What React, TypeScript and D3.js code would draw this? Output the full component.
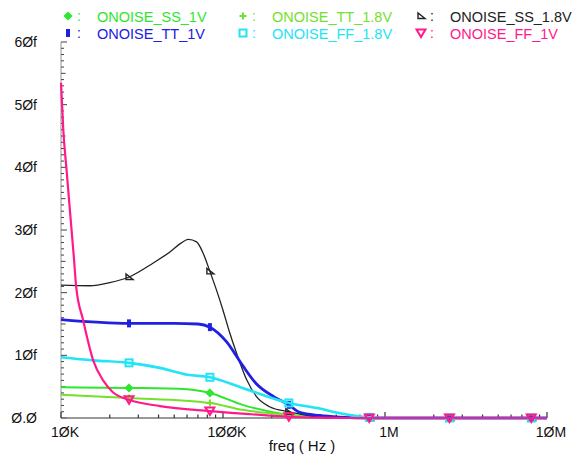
import React, { useEffect, useRef } from "react";
import * as d3 from "d3";

// frequencies in Hz, noise in fF
const markerFreqs = [26.3e3, 83e3, 255e3, 800e3, 2.5e6, 8e6];

const ssLowFreq = [10e3, 26.3e3, 60e3, 83e3, 132e3, 255e3, 400e3, 600e3, 10e6];
const ssLowVals = [4.9, 4.8, 4.6, 4.0, 2.1, 0.5, 0.1, 0, 0];
const ssLowMarks = [4.8, 4.0, 0.5, 0, 0, 0];

const ttHighFreq = [10e3, 26.3e3, 83e3, 132e3, 255e3, 400e3, 600e3, 10e6];
const ttHighVals = [3.7, 3.2, 2.4, 1.3, 0.5, 0.1, 0, 0];
const ttHighMarks = [3.2, 2.4, 0.5, 0, 0, 0];

const ssHighFreq = [
  10e3, 15e3, 20e3, 26.3e3, 36.9e3, 47e3, 55e3, 61e3, 68.7e3, 75.4e3, 83e3, 91.2e3,
  100e3, 110e3, 121e3, 140e3, 161e3, 194e3, 253e3, 350e3, 450e3, 10e6,
];
const ssHighVals = [
  21.2, 21.1, 21.6, 22.5, 24.7, 26.5, 27.9, 28.5, 28.1, 26.3, 23.4, 20.4,
  17.2, 13.6, 10.4, 6.1, 3.4, 1.8, 1.0, 0.3, 0, 0,
];
const ssHighMarks = [22.5, 23.4, 1.0, 0, 0, 0];

const ttLowFreq = [10e3, 26.3e3, 50e3, 70e3, 83e3, 105e3, 132e3, 160e3, 209e3, 255e3, 297e3, 395e3, 525e3, 800e3, 10e6];
const ttLowVals = [15.7, 15.1, 15.1, 15.0, 14.5, 12.2, 8.4, 5.5, 3.3, 2.1, 0.9, 0.4, 0.15, 0, 0];
const ttLowMarks = [15.1, 14.5, 2.1, 0, 0, 0];

const ffHighFreq = [10e3, 15.8e3, 26.3e3, 40.8e3, 60e3, 83e3, 132e3, 255e3, 395e3, 475e3, 800e3, 1e6, 10e6];
const ffHighVals = [9.7, 9.2, 8.8, 8.0, 6.9, 6.5, 4.8, 2.4, 1.5, 1.0, 0.1, 0, 0];
const ffHighMarks = [8.8, 6.5, 2.4, 0.1, 0, 0];

const ffLowFreq = [
  10e3, 10.33e3, 10.83e3, 11.36e3, 12e3, 12.4e3, 13.7e3, 15.8e3, 18.2e3, 20.9e3,
  26.3e3, 40.8e3, 83e3, 150e3, 255e3, 400e3, 600e3, 10e6,
];
const ffLowVals = [53.5, 46, 39.5, 33, 25.7, 21, 15.6, 9.2, 6, 4.1, 2.9, 1.9, 1.1, 0.6, 0.2, 0.05, 0, 0];
const ffLowMarks = [2.9, 1.1, 0.2, 0, 0, 0];

const seriesNames = [
  "ONOISE_SS_1V",
  "ONOISE_TT_1.8V",
  "ONOISE_SS_1.8V",
  "ONOISE_TT_1V",
  "ONOISE_FF_1.8V",
  "ONOISE_FF_1V",
];

const yTickLabels = ["Ø.Ø", "1Øf", "2Øf", "3Øf", "4Øf", "5Øf", "6Øf"];
const yTickValues = [0, 10, 20, 30, 40, 50, 60];
const xTickLabels = ["1ØK", "1ØØK", "1M", "1ØM"];
const xTickValues = [1e4, 1e5, 1e6, 1e7];

const W = 584;
const H = 455;
const FONT = "'Liberation Sans', Arial, sans-serif";

export default function App() {
  const svgRef = useRef<SVGSVGElement | null>(null);

  useEffect(() => {
    const root = d3.select(svgRef.current);
    root.selectAll("*").remove();

    const x = d3.scaleLog().domain([1e4, 1e7]).range([61, 547]);
    const y = d3.scaleLinear().domain([0, 60]).range([418, 42]);

    const series = [
      { name: seriesNames[0], f: ssLowFreq, v: ssLowVals, m: ssLowMarks, color: "#2ee62e", width: 2, mark: "diamond" },
      { name: seriesNames[1], f: ttHighFreq, v: ttHighVals, m: ttHighMarks, color: "#74e02c", width: 2, mark: "plus" },
      { name: seriesNames[2], f: ssHighFreq, v: ssHighVals, m: ssHighMarks, color: "#222222", width: 1.3, mark: "tri" },
      { name: seriesNames[3], f: ttLowFreq, v: ttLowVals, m: ttLowMarks, color: "#2020e0", width: 2.8, mark: "rect" },
      { name: seriesNames[4], f: ffHighFreq, v: ffHighVals, m: ffHighMarks, color: "#22e4f4", width: 2.6, mark: "square" },
      { name: seriesNames[5], f: ffLowFreq, v: ffLowVals, m: ffLowMarks, color: "#ff1a8c", width: 2.2, mark: "down" },
    ];

    // axes
    const gy = root.append("g");
    gy.append("line")
      .attr("x1", 61).attr("x2", 61)
      .attr("y1", y(60)).attr("y2", y(0))
      .attr("stroke", "#b8b8b8").attr("stroke-width", 1.5);
    d3.range(0, 61).forEach((t) => {
      const len = t % 10 === 0 ? 6 : t % 5 === 0 ? 4.5 : 3;
      gy.append("line")
        .attr("x1", 61).attr("x2", 61 + len)
        .attr("y1", y(t)).attr("y2", y(t))
        .attr("stroke", "#444").attr("stroke-width", 1);
    });
    yTickValues.forEach((t, i) => {
      gy.append("text")
        .attr("x", 37).attr("y", y(t) + 5)
        .attr("text-anchor", "end")
        .attr("font-family", FONT).attr("font-size", 14)
        .attr("fill", "#111")
        .text(yTickLabels[i]);
    });

    const gx = root.append("g");
    gx.append("line")
      .attr("x1", x(1e4)).attr("x2", x(1e7))
      .attr("y1", y(0)).attr("y2", y(0))
      .attr("stroke", "#777").attr("stroke-width", 1.5);
    const minor: number[] = [];
    [1e4, 1e5, 1e6].forEach((d) => d3.range(2, 10).forEach((k) => minor.push(d * k)));
    minor.forEach((t) => {
      gx.append("line")
        .attr("x1", x(t)).attr("x2", x(t))
        .attr("y1", y(0)).attr("y2", y(0) - 3.5)
        .attr("stroke", "#333").attr("stroke-width", 1.2);
    });
    xTickValues.forEach((t, i) => {
      gx.append("line")
        .attr("x1", x(t)).attr("x2", x(t))
        .attr("y1", y(0)).attr("y2", y(0) - 6)
        .attr("stroke", "#333").attr("stroke-width", 1.2);
      gx.append("text")
        .attr("x", x(t) + 4).attr("y", 437)
        .attr("text-anchor", "middle")
        .attr("font-family", FONT).attr("font-size", 14)
        .attr("fill", "#111")
        .text(xTickLabels[i]);
    });
    root.append("text")
      .attr("x", 302).attr("y", 451)
      .attr("text-anchor", "middle")
      .attr("font-family", FONT).attr("font-size", 15)
      .attr("fill", "#111")
      .text("freq ( Hz )");

    const drawMark = (g: any, kind: string, cx: number, cy: number, color: string) => {
      if (kind === "diamond") {
        g.append("path")
          .attr("d", `M${cx},${cy - 3.5}L${cx + 3.5},${cy}L${cx},${cy + 3.5}L${cx - 3.5},${cy}Z`)
          .attr("fill", color).attr("stroke", color).attr("stroke-width", 1.5);
      } else if (kind === "plus") {
        g.append("path")
          .attr("d", `M${cx - 3.5},${cy}H${cx + 3.5}M${cx},${cy - 3.5}V${cy + 3.5}`)
          .attr("stroke", color).attr("stroke-width", 2);
      } else if (kind === "tri") {
        g.append("path")
          .attr("d", `M${cx - 3},${cy - 3}L${cx - 3},${cy + 2.5}L${cx + 4},${cy + 2.5}Z`)
          .attr("fill", "none").attr("stroke", color).attr("stroke-width", 1.4);
      } else if (kind === "rect") {
        g.append("rect")
          .attr("x", cx - 2).attr("y", cy - 4).attr("width", 4).attr("height", 8)
          .attr("fill", color);
      } else if (kind === "square") {
        g.append("rect")
          .attr("x", cx - 3.5).attr("y", cy - 3.5).attr("width", 7).attr("height", 7)
          .attr("fill", "none").attr("stroke", color).attr("stroke-width", 2);
      } else if (kind === "down") {
        g.append("path")
          .attr("d", `M${cx - 4.5},${cy - 3.5}H${cx + 4.5}L${cx},${cy + 4}Z`)
          .attr("fill", "none").attr("stroke", color).attr("stroke-width", 2);
      }
    };

    const line = d3
      .line<[number, number]>()
      .x((d) => x(d[0]))
      .y((d) => y(d[1]))
      .curve(d3.curveMonotoneX);

    series.forEach((s) => {
      const g = root.append("g");
      const pts = s.f.map((f, i) => [f, s.v[i]] as [number, number]);
      g.append("path")
        .attr("d", line(pts))
        .attr("fill", "none")
        .attr("stroke", s.color)
        .attr("stroke-width", s.width)
        .attr("stroke-linejoin", "round");
      markerFreqs.forEach((f, i) => drawMark(g, s.mark, x(f), y(s.m[i]), s.color));
    });

    // legend
    const legendPos = [
      [68, 17], [243, 17], [421, 17],
      [68, 34], [243, 34], [421, 34],
    ];
    series.forEach((s, i) => {
      const [lx, ly] = legendPos[i];
      const g = root.append("g");
      drawMark(g, s.mark, lx, ly - 1, s.color);
      g.append("text")
        .attr("x", lx + 9).attr("y", ly + 4)
        .attr("font-family", FONT).attr("font-size", 14)
        .attr("fill", s.color)
        .text(":");
      g.append("text")
        .attr("x", lx + 29).attr("y", ly + 5)
        .attr("font-family", FONT).attr("font-size", 14.5)
        .attr("fill", s.color)
        .text(s.name);
    });
  }, []);

  return (
    <svg
      ref={svgRef}
      width={W}
      height={H}
      style={{ position: "absolute", left: 0, top: 0, background: "#fff" }}
    />
  );
}
